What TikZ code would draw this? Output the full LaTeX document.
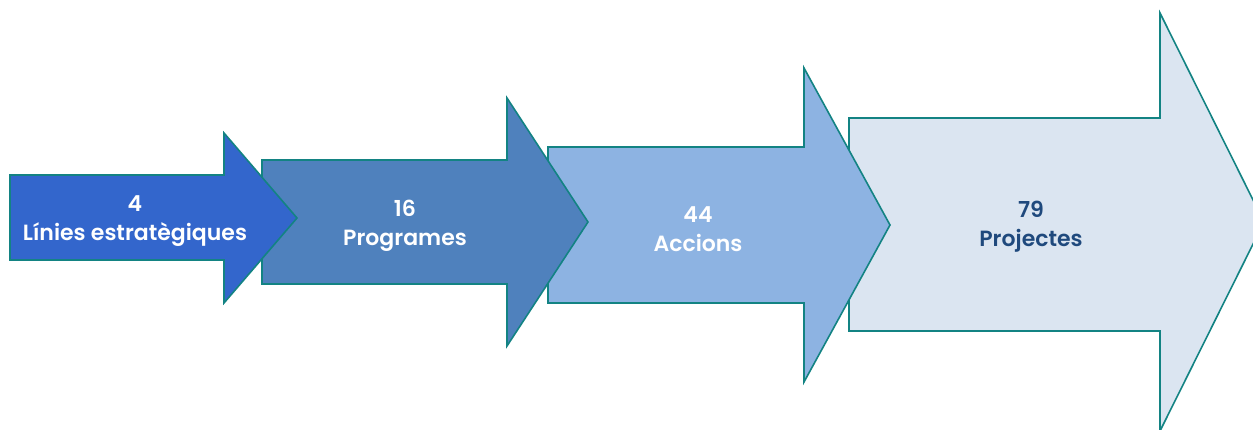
\documentclass[tikz,border=0pt]{standalone}
\usepackage{fontspec}
\setmainfont{Poppins}[BoldFont={Poppins SemiBold}]
\definecolor{edge}{HTML}{138383}
\definecolor{fillA}{HTML}{3366CC}
\definecolor{fillB}{HTML}{4F81BD}
\definecolor{fillC}{HTML}{8DB3E2}
\definecolor{fillD}{HTML}{DBE5F1}
\definecolor{txtD}{HTML}{1F497D}
\begin{document}
\begin{tikzpicture}[x=1pt,y=-1pt,
  arrowshape/.style={draw=edge,line width=1.6pt,line join=miter},
  lbl/.style={align=center,font=\fontsize{22}{29}\selectfont\bfseries,inner sep=0pt}]
\useasboundingbox (0,0) rectangle (1253,430);
\clip (0,0) rectangle (1253,430);
% arrow 4
\draw[arrowshape,fill=fillD] (849,118) -- (1160,118) -- (1160,13) -- (1264,222) -- (1160,431) -- (1160,331) -- (849,331) -- cycle;
% arrow 3
\draw[arrowshape,fill=fillC] (548,147) -- (804,147) -- (804,68) -- (890,225) -- (804,382) -- (804,303) -- (548,303) -- cycle;
% arrow 2
\draw[arrowshape,fill=fillB] (262,160) -- (507,160) -- (507,98) -- (588,222) -- (507,346) -- (507,284) -- (262,284) -- cycle;
% arrow 1
\draw[arrowshape,fill=fillA] (10,175) -- (224,175) -- (224,133) -- (297,218) -- (224,303) -- (224,260) -- (10,260) -- cycle;
\node[lbl,text=white] (t1) at (135,221) {4\\Línies estratègiques};
\node[lbl,text=white] (t2) at (405,226) {16\\Programes};
\node[lbl,text=white] (t3) at (698,229) {44\\Accions};
\node[lbl,text=txtD] (t4) at (1031,227) {79\\Projectes};
\end{tikzpicture}
\end{document}
